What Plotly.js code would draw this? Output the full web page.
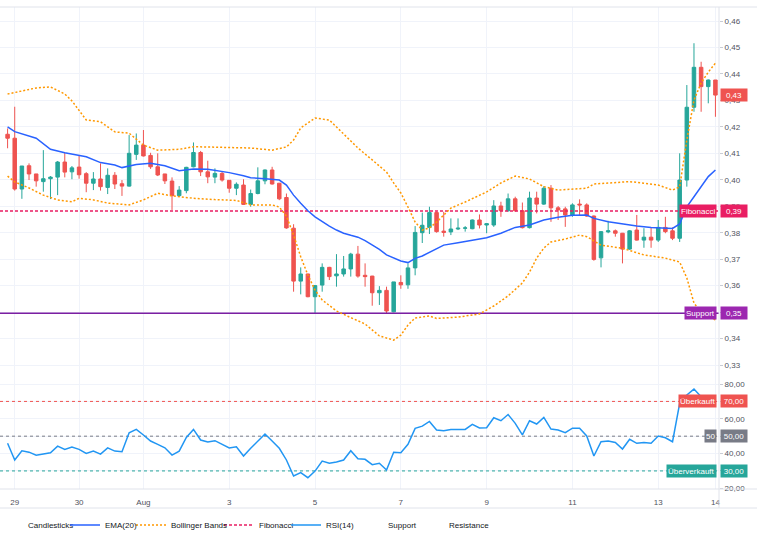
<!DOCTYPE html>
<html><head><meta charset="utf-8">
<script src="https://cdn.plot.ly/plotly-3.0.1.min.js"></script>
<style>html,body{margin:0;padding:0;background:#fff}#chart{width:757px;height:536px}</style>
</head><body><div id="chart"></div>
<script>
// ---- data ----
const OPEN  = [0.4172,0.4157,0.3965,0.4053,0.4022,0.3993,0.4004,0.4010,0.4067,0.4030,
               0.4048,0.4023,0.3987,0.4003,0.3971,0.4017,0.3985,0.3976,0.4096,0.4131,
               0.4092,0.4049,0.4022,0.3995,0.3940,0.3959,0.4049,0.4103,0.4030,0.4010,
               0.4024,0.3998,0.3968,0.3980,0.3907,0.3948,0.3996,0.4037,0.3987,0.3933,
               0.3817,0.3617,0.3644,0.3558,0.3602,0.3669,0.3637,0.3644,0.3663,0.3719,
               0.3639,0.3636,0.3573,0.3582,0.3501,0.3612,0.3603,0.3667,0.3800,0.3820,
               0.3876,0.3806,0.3803,0.3814,0.3817,0.3815,0.3848,0.3829,0.3829,0.3901,
               0.3883,0.3928,0.3883,0.3819,0.3931,0.3908,0.3968,0.3894,0.3890,0.3867,
               0.3908,0.3905,0.3863,0.3705,0.3803,0.3807,0.3798,0.3738,0.3810,0.3772,
               0.3783,0.3772,0.3820,0.3807,0.3779,0.3999,0.4274,0.4425,0.4352,0.4377];
const HIGH  = [0.4194,0.4276,0.4052,0.4062,0.4022,0.4112,0.4014,0.4071,0.4102,0.4052,
               0.4090,0.4029,0.4029,0.4062,0.4043,0.4029,0.3999,0.4169,0.4175,0.4188,
               0.4102,0.4100,0.4022,0.4009,0.3976,0.4049,0.4141,0.4109,0.4072,0.4043,
               0.4030,0.3999,0.3990,0.4002,0.3963,0.4047,0.4039,0.4049,0.3988,0.3948,
               0.3832,0.3669,0.3645,0.3602,0.3684,0.3671,0.3719,0.3712,0.3724,0.3750,
               0.3684,0.3637,0.3598,0.3596,0.3614,0.3639,0.3684,0.3825,0.3876,0.3898,
               0.3880,0.3879,0.3854,0.3854,0.3825,0.3850,0.3869,0.3836,0.3923,0.3917,
               0.3948,0.3936,0.3914,0.3955,0.3955,0.3976,0.3980,0.3901,0.3898,0.3911,
               0.3926,0.3911,0.3865,0.3806,0.3845,0.3812,0.3799,0.3810,0.3867,0.3817,
               0.3820,0.3848,0.3860,0.3820,0.4100,0.4358,0.4516,0.4446,0.4379,0.4377];
const LOW   = [0.4119,0.3959,0.3928,0.3999,0.3974,0.3955,0.3927,0.3942,0.4009,0.4002,
               0.4004,0.3953,0.3961,0.3959,0.3946,0.3965,0.3939,0.3974,0.4075,0.4088,
               0.4041,0.4014,0.3984,0.3886,0.3936,0.3949,0.4047,0.4014,0.3987,0.3987,
               0.3993,0.3951,0.3942,0.3905,0.3898,0.3945,0.3983,0.3982,0.3923,0.3815,
               0.3577,0.3567,0.3556,0.3495,0.3577,0.3621,0.3596,0.3634,0.3634,0.3630,
               0.3596,0.3524,0.3527,0.3495,0.3499,0.3588,0.3588,0.3639,0.3761,0.3795,
               0.3800,0.3785,0.3791,0.3810,0.3804,0.3813,0.3816,0.3798,0.3822,0.3860,
               0.3879,0.3879,0.3816,0.3816,0.3873,0.3905,0.3841,0.3848,0.3822,0.3860,
               0.3867,0.3860,0.3694,0.3669,0.3798,0.3785,0.3684,0.3735,0.3770,0.3743,
               0.3743,0.3765,0.3798,0.3772,0.3765,0.3974,0.4257,0.4257,0.4289,0.4238];
const CLOSE = [0.4157,0.3965,0.4052,0.4022,0.3996,0.4004,0.4010,0.4067,0.4029,0.4045,
               0.4019,0.3987,0.4003,0.3974,0.4017,0.3984,0.3976,0.4100,0.4131,0.4090,
               0.4049,0.4018,0.3996,0.3940,0.3961,0.4047,0.4103,0.4030,0.4011,0.4024,
               0.3999,0.3968,0.3983,0.3907,0.3948,0.3996,0.4037,0.3984,0.3928,0.3818,
               0.3617,0.3644,0.3558,0.3600,0.3669,0.3634,0.3644,0.3663,0.3719,0.3636,
               0.3634,0.3573,0.3582,0.3504,0.3614,0.3603,0.3667,0.3801,0.3828,0.3876,
               0.3804,0.3801,0.3814,0.3817,0.3818,0.3848,0.3829,0.3834,0.3901,0.3883,
               0.3928,0.3883,0.3819,0.3931,0.3908,0.3968,0.3894,0.3886,0.3867,0.3905,
               0.3905,0.3863,0.3699,0.3804,0.3807,0.3798,0.3738,0.3807,0.3772,0.3783,
               0.3772,0.3820,0.3804,0.3779,0.3999,0.4274,0.4425,0.4352,0.4377,0.4320];

const TICK_POS  = [1, 10, 19, 31, 43, 55, 67, 79, 91, 99];
const TICK_TEXT = ['29', '30', 'Aug', '3', '5', '7', '9', '11', '13', '14'];

const EMA_X = [0,1,4,6,8,11,13,15,16,18,20,22,24,26,28,30,31,33,34,36,38,39,40,41,42,43,44,45,46,47,48,49,50,
               51,52,53,54,55,56,57,58,59,60,61,63,65,67,69,71,73,75,77,79,81,82,84,86,88,90,92,93,94,95,96,97,98,99];
const EMA   = [0.4200,0.4182,0.4157,0.4115,0.4102,0.4087,0.4065,0.4056,0.4046,0.4058,0.4062,0.4053,0.4034,0.4041,
               0.4040,0.4033,0.4027,0.4015,0.4008,0.4004,0.3999,0.3980,0.3942,0.3911,0.3883,0.3860,0.3841,0.3825,
               0.3810,0.3798,0.3790,0.3783,0.3770,0.3753,0.3737,0.3716,0.3703,0.3693,0.3687,0.3703,0.3712,0.3725,
               0.3737,0.3753,0.3762,0.3772,0.3781,0.3798,0.3820,0.3829,0.3848,0.3858,0.3866,0.3867,0.3854,0.3841,
               0.3833,0.3825,0.3820,0.3817,0.3816,0.3833,0.3898,0.3936,0.3974,0.4012,0.4037];

const BB_UP_X = [0,2,4,6,8,9,11,13,15,17,19,21,24,26,31,34,37,39,40,41,43,45,47,49,51,53,54,55,56,57,58,59,60,
                 62,64,67,69,71,73,75,77,79,81,82,85,87,89,91,93,94,95,96,97,98,99];
const BB_UP   = [0.4324,0.4335,0.4347,0.4351,0.4324,0.4298,0.4226,0.4219,0.4181,0.4176,0.4131,0.4112,0.4115,
                 0.4125,0.4123,0.4120,0.4112,0.4124,0.4150,0.4196,0.4233,0.4226,0.4173,0.4120,0.4075,0.4029,
                 0.3988,0.3950,0.3897,0.3840,0.3810,0.3818,0.3840,0.3893,0.3916,0.3954,0.3988,0.4014,0.4003,
                 0.3974,0.3961,0.3964,0.3968,0.3984,0.3989,0.3993,0.3987,0.3980,0.3961,0.3973,0.4150,0.4301,
                 0.4366,0.4407,0.4441];
const BB_LO_X = [0,1,3,5,7,9,10,12,14,17,19,21,23,26,29,32,34,37,38,39,40,41,42,43,44,46,48,50,52,54,55,56,57,
                 59,60,63,66,68,70,72,73,74,75,76,78,80,81,83,86,89,92,94,95,96,97,99];
const BB_LO   = [0.4014,0.3992,0.3969,0.3942,0.3924,0.3917,0.3930,0.3924,0.3912,0.3905,0.3924,0.3949,0.3939,
                 0.3930,0.3925,0.3922,0.3905,0.3905,0.3897,0.3863,0.3791,0.3709,0.3640,0.3583,0.3546,0.3504,
                 0.3479,0.3455,0.3410,0.3394,0.3413,0.3451,0.3478,0.3485,0.3476,0.3481,0.3493,0.3523,0.3561,
                 0.3610,0.3651,0.3704,0.3742,0.3765,0.3776,0.3791,0.3785,0.3753,0.3741,0.3716,0.3704,0.3689,
                 0.3629,0.3534,0.3500,0.3470];

const RSI = [45.9,36.3,41.6,40.8,39.1,39.8,40.5,44.3,42.4,43.8,42.4,40.1,41.4,39.7,43.3,41.4,41.0,52.0,53.9,50.7,
             47.2,45.3,43.3,39.1,41.4,49.3,53.9,47.8,46.6,47.4,45.5,43.2,43.9,38.6,43.0,47.2,51.2,47.2,43.0,36.3,
             27.1,29.0,26.1,29.9,35.7,34.4,35.1,36.3,41.6,37.0,36.7,33.6,34.4,30.5,40.7,40.5,45.3,54.5,55.8,58.5,
             53.5,53.1,53.9,53.9,53.9,56.8,54.7,54.9,60.6,58.9,62.5,57.4,50.7,58.9,57.0,60.8,54.1,53.5,52.0,54.6,
             54.5,50.1,38.6,46.8,47.2,46.4,42.6,48.2,45.9,46.4,45.9,50.1,49.1,46.8,68.9,73.7,77.1,72.7];

const FIB_LEVEL = 0.3882;
const SUPPORT_LEVEL = 0.3496;
const RSI_LEVELS = [70, 50, 30];
const RSI_LEVEL_NAMES = ['Überkauft', '50', 'Überverkauft'];
const X_RANGE = [-1.06, 99.5];

// ---- build ----
const IDX = CLOSE.map((_, i) => i);
const RSI_X = RSI.map((_, i) => i);
const UP = '#26a69a', DN = '#ef5350';
const fmt = v => v.toFixed(2).replace('.', ',');
const RSI_COLORS = ['#ef5350', '#787b86', '#26a69a'];

const traces = [];
RSI_LEVELS.forEach((lv, k) => traces.push({
  type: 'scatter', mode: 'lines', x: X_RANGE, y: [lv, lv], xaxis: 'x', yaxis: 'y2',
  line: {color: RSI_COLORS[k], width: 1, dash: '3px,3px'}, showlegend: false, hoverinfo: 'skip'
}));
traces.push({
  type: 'candlestick', x: IDX, open: OPEN, high: HIGH, low: LOW, close: CLOSE,
  xaxis: 'x', yaxis: 'y', name: 'Candlesticks', showlegend: false, whiskerwidth: 0,
  increasing: {line: {color: UP, width: 1}, fillcolor: UP},
  decreasing: {line: {color: DN, width: 1}, fillcolor: DN}, hoverinfo: 'skip'
});
traces.push({type: 'scatter', mode: 'lines', x: X_RANGE, y: [FIB_LEVEL, FIB_LEVEL], name: 'Fibonacci',
  line: {color: '#e91e63', width: 1.5, dash: '3px,2px'}, legend: 'legend4', hoverinfo: 'skip'});
traces.push({type: 'scatter', mode: 'lines', x: X_RANGE, y: [SUPPORT_LEVEL, SUPPORT_LEVEL], name: 'Support line',
  line: {color: '#7b1fa2', width: 1.5}, showlegend: false, hoverinfo: 'skip'});
traces.push({type: 'scatter', mode: 'lines', x: BB_UP_X, y: BB_UP, name: 'Bollinger Bands', legendgroup: 'bb',
  line: {color: '#ff9800', width: 1.5, dash: '2px,2px'}, legend: 'legend3', hoverinfo: 'skip'});
traces.push({type: 'scatter', mode: 'lines', x: BB_LO_X, y: BB_LO, name: 'Bollinger Bands', legendgroup: 'bb',
  line: {color: '#ff9800', width: 1.5, dash: '2px,2px'}, showlegend: false, hoverinfo: 'skip'});
traces.push({type: 'scatter', mode: 'lines', x: EMA_X, y: EMA, name: 'EMA(20)',
  line: {color: '#2962ff', width: 1.5}, legend: 'legend2', hoverinfo: 'skip'});
traces.push({type: 'scatter', mode: 'lines', x: RSI_X, y: RSI, xaxis: 'x', yaxis: 'y2', name: 'RSI(14)',
  line: {color: '#2196f3', width: 1.5}, legend: 'legend5', hoverinfo: 'skip'});
[['Candlesticks', 'legend'], ['Support', 'legend6'], ['Resistance', 'legend7']].forEach(([n, lg]) =>
  traces.push({type: 'scatter', mode: 'lines', x: [null], y: [null], name: n, legend: lg,
    line: {color: 'rgba(0,0,0,0)', width: 1}, hoverinfo: 'skip'}));

const PW = 719, PH = 482;
const lg = px => ({x: (px - 40) / PW, xanchor: 'left', y: -36 / PH, yanchor: 'middle', orientation: 'h',
  bgcolor: 'rgba(0,0,0,0)', borderwidth: 0, font: {size: 8, color: '#131722'}, itemwidth: 30});

const ann = [];
function tag(text, y, yref, color, left) {
  const a = {xref: 'paper', x: 1, y: y, yref: yref, text: text, showarrow: false,
    xanchor: left ? 'right' : 'left', xshift: left ? -2 : 1, bgcolor: color, borderpad: 1,
    font: {color: '#fff', size: 8}, height: 10};
  if (!left) a.width = 24;
  ann.push(a);
}
const last = CLOSE[CLOSE.length - 1];
tag(fmt(last), last, 'y', DN, false);
tag('Fibonacci', FIB_LEVEL, 'y', '#e91e63', true);
tag(fmt(FIB_LEVEL), FIB_LEVEL, 'y', '#e91e63', false);
tag('Support', SUPPORT_LEVEL, 'y', '#9c27b0', true);
tag(fmt(SUPPORT_LEVEL), SUPPORT_LEVEL, 'y', '#9c27b0', false);
RSI_LEVELS.forEach((lv, k) => {
  tag(RSI_LEVEL_NAMES[k], lv, 'y2', RSI_COLORS[k], true);
  tag(fmt(lv), lv, 'y2', RSI_COLORS[k], false);
});

const frame = '#e0e3eb';
const R = 757 / PW, B = -19 / PH;
const shapes = [
  {type: 'line', xref: 'paper', yref: 'paper', x0: 0, x1: R, y0: 1, y1: 1, line: {color: frame, width: 1}},
  {type: 'line', xref: 'paper', yref: 'paper', x0: 0, x1: R, y0: 0, y1: 0, line: {color: frame, width: 1}},
  {type: 'line', xref: 'paper', yref: 'paper', x0: 0, x1: R, y0: B, y1: B, line: {color: frame, width: 1}},
  {type: 'line', xref: 'paper', yref: 'paper', x0: 1, x1: 1, y0: B, y1: 1, line: {color: frame, width: 1}}
];

const tickFont = {size: 8, color: '#50535e'};
const layout = {
  width: 757, height: 536, margin: {l: 0, r: 38, t: 7, b: 47, pad: 0, autoexpand: false},
  paper_bgcolor: '#fff', plot_bgcolor: '#fff', separators: ',.',
  font: {family: '"Liberation Sans", Arial, sans-serif', size: 8, color: '#131722'},
  showlegend: true, hovermode: false,
  xaxis: {range: X_RANGE, anchor: 'y2', tickmode: 'array', tickvals: TICK_POS, ticktext: TICK_TEXT,
    showgrid: true, gridcolor: '#f0f3fa', zeroline: false, showline: false, ticks: 'outside',
    ticklen: 5, tickcolor: 'rgba(0,0,0,0)', tickfont: tickFont, rangeslider: {visible: false},
    fixedrange: true, automargin: false},
  yaxis: {domain: [0.2365, 1], range: [0.32622, 0.46529], side: 'right', tick0: 0, dtick: 0.01,
    tickformat: '.2f', gridcolor: '#f0f3fa', zeroline: false, showline: false, ticks: 'outside',
    ticklen: 3, tickcolor: '#c9ccd4', tickfont: tickFont, fixedrange: true, automargin: false},
  yaxis2: {domain: [0, 0.2365], range: [19.6, 85.2], side: 'right', tick0: 0, dtick: 10,
    tickformat: '.2f', gridcolor: '#f0f3fa', zeroline: false, showline: false, ticks: 'outside',
    ticklen: 3, tickcolor: '#c9ccd4', tickfont: tickFont, fixedrange: true, automargin: false},
  legend: lg(28), legend2: lg(105), legend3: lg(171), legend4: lg(259),
  legend5: lg(326), legend6: lg(388), legend7: lg(449),
  annotations: ann, shapes: shapes
};

Plotly.newPlot('chart', traces, layout, {displayModeBar: false, staticPlot: true});
</script>
</body></html>
